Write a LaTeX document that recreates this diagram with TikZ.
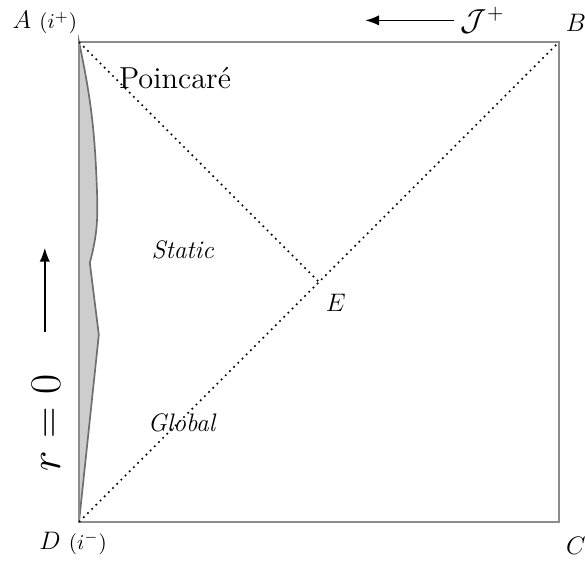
\documentclass[tikz,border=0pt]{standalone}
\usepackage{amsmath,amssymb}
\usepackage{tikz}
\usetikzlibrary{arrows.meta,positioning}
\definecolor{borde}{HTML}{8C8C8C}
\definecolor{relleno}{HTML}{CDCDCD}
\definecolor{contorno}{HTML}{6E6E6E}

\begin{document}
\begin{tikzpicture}[>=Latex,
      region/.style={font=\large},
      esquina/.style={font=\large}]
    \useasboundingbox (-1.317,-0.65) rectangle (8.433,8.7);
    % esquinas del diagrama
    \coordinate (A) at (0,8);
    \coordinate (B) at (8,8);
    \coordinate (C) at (8,0);
    \coordinate (D) at (0,0);
    \coordinate (E) at (4,4);
    % region sombreada junto a r=0
    \filldraw[fill=relleno,draw=contorno,thick] (A) to[out=-78,in=92] (0.3,5.5)
      to[out=-88,in=75] (0.18,4.32) -- (0.33,3.12) -- (D) -- cycle;
    \draw[borde,thick] (A) -- (B) -- (C) -- (D) -- cycle;
    \draw[dotted,thick] (A) -- (E);
    \draw[dotted,thick] (D) -- (B);
    % etiquetas
    \node[esquina] (lA) at (-0.57,8.32) {$A$ \normalsize$(i^+)$};
    \node[esquina] (lB) at (8.28,8.32) {$B$};
    \node[esquina] (lC) at (8.28,-0.4) {$C$};
    \node[esquina] (lD) at (-0.1,-0.35) {$D$ \normalsize$(i^-)$};
    \node[esquina] (lE) at (4.28,3.65) {$E$};
    \node[region,font=\Large] (poin) at (1.6,7.4) {Poincaré};
    \node[region] (stat) at (1.73,4.53) {\textit{Static}};
    \node[region] (glob) at (1.72,1.65) {\textit{Global}};
    \node[font=\Large] (scri) at (6.73,8.36) {$\mathcal{J}^+$};
    \coordinate (s2) at (4.77,8.36);
    \draw[->,thick] (scri) -- (s2);
    \node[rotate=90,font=\huge] (r0) at (-0.55,1.65) {$r=0$};
    \coordinate (t1) at (-0.57,3.17);
    \coordinate (t2) at (-0.57,4.57);
    \draw[->,thick] (t1) -- (t2);
  \end{tikzpicture}
\end{document}
